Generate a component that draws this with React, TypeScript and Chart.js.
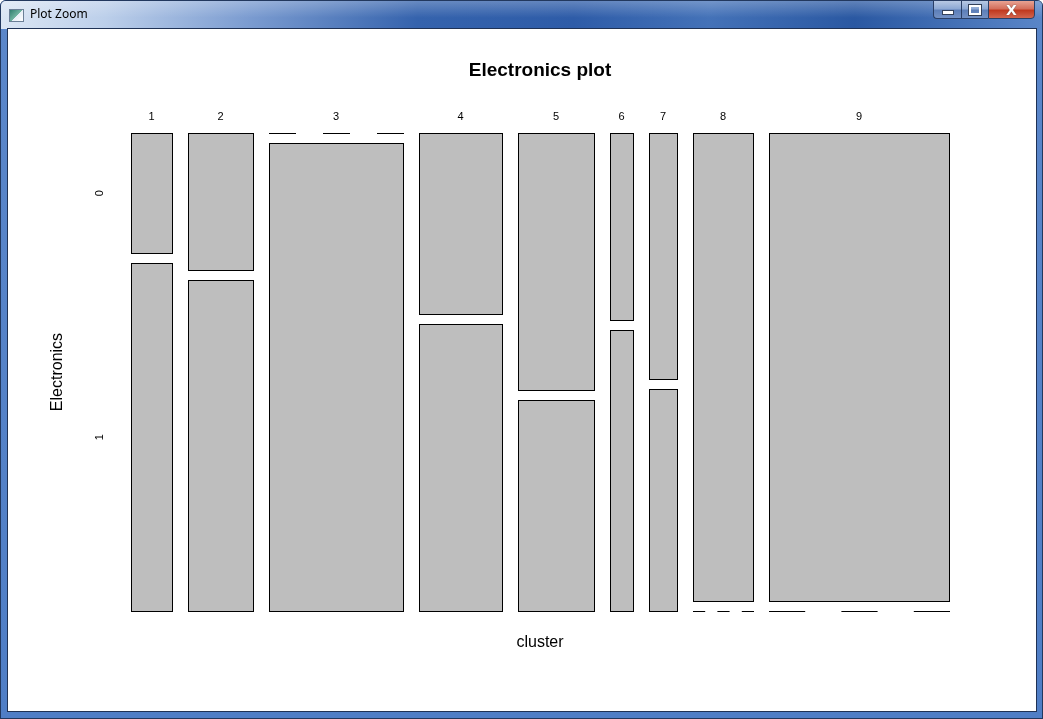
import React, { useEffect, useRef } from 'react';
import { Chart, registerables } from 'chart.js';

Chart.register(...registerables);

// ---- data ----
const clusters = ['1', '2', '3', '4', '5', '6', '7', '8', '9'];
const electronicsLevels = ['0', '1'];
// relative size of each cluster (column widths, sum = 1)
const clusterShare = [0.0594, 0.0942, 0.1942, 0.1203, 0.1101, 0.0333, 0.0406, 0.087, 0.2609];
// share of Electronics = 0 within each cluster
const zeroShare = [0.257, 0.293, 0, 0.387, 0.549, 0.4, 0.526, 1, 1];

const TITLE = 'Electronics plot';
const X_TITLE = 'cluster';
const Y_TITLE = 'Electronics';

// spacing between tiles (in share units)
const X_GAP = 0.0232;
const Y_GAP = 0.0214;

const FONT = 'Liberation Sans, Arial, Helvetica, sans-serif';

const columns = (() => {
  let acc = 0;
  return clusterShare.map((w, i) => {
    const x0 = acc + i * X_GAP;
    acc += w;
    return { x0, x1: x0 + w, zero: zeroShare[i] };
  });
})();
const X_MAX = clusterShare.reduce((a, b) => a + b, 0) + (clusterShare.length - 1) * X_GAP;
const Y_MAX = 1 + Y_GAP;
const colCenters = columns.map((c) => (c.x0 + c.x1) / 2);
const levelCenters = [Y_MAX - zeroShare[0] / 2, (1 - zeroShare[0]) / 2];

const mosaicPlugin = {
  id: 'mosaic',
  beforeDatasetsDraw(chart: any) {
    const { ctx } = chart;
    const xs = chart.scales.x;
    const ys = chart.scales.y;
    ctx.save();
    ctx.lineWidth = 1;
    ctx.strokeStyle = '#000000';
    ctx.fillStyle = '#BEBEBE';
    columns.forEach((col) => {
      const l = Math.round(xs.getPixelForValue(col.x0));
      const r = Math.round(xs.getPixelForValue(col.x1));
      const segs = [
        { top: Y_MAX, bottom: Y_MAX - col.zero },
        { top: 1 - col.zero, bottom: 0 },
      ];
      segs.forEach((s) => {
        const t = Math.round(ys.getPixelForValue(s.top));
        const b = Math.round(ys.getPixelForValue(s.bottom));
        if (s.top - s.bottom <= 1e-9) {
          const w = r - l + 1;
          ctx.save();
          ctx.setLineDash([w / 5, w / 5]);
          ctx.beginPath();
          ctx.moveTo(l, t + 0.5);
          ctx.lineTo(r + 1, t + 0.5);
          ctx.stroke();
          ctx.restore();
        } else {
          ctx.fillRect(l, t, r - l + 1, b - t + 1);
          ctx.strokeRect(l + 0.5, t + 0.5, r - l, b - t);
        }
      });
    });
    ctx.restore();
  },
};

export default function App() {
  const ref = useRef<HTMLCanvasElement>(null);

  useEffect(() => {
    if (!ref.current) return;
    const tickFont = { family: FONT, size: 11 };
    const chart = new Chart(ref.current, {
      type: 'scatter',
      data: { datasets: [{ data: [], xAxisID: 'x', yAxisID: 'y' }] },
      options: {
        animation: false,
        responsive: false,
        events: [],
        layout: { padding: { left: 40, top: 20, right: 87, bottom: 59 } },
        plugins: {
          legend: { display: false },
          tooltip: { enabled: false },
          title: {
            display: true,
            text: TITLE,
            color: '#000',
            fullSize: false,
            font: { family: FONT, size: 19, weight: 'bold', lineHeight: '22px' },
            padding: { top: 11, bottom: 0 },
          },
        },
        scales: {
          x: {
            type: 'linear',
            position: 'top',
            min: 0,
            max: X_MAX,
            afterBuildTicks: (s: any) => {
              s.ticks = colCenters.map((v) => ({ value: v }));
            },
            afterFit: (s: any) => {
              s.height = 51;
            },
            ticks: {
              autoSkip: false,
              maxRotation: 0,
              padding: 9,
              color: '#000',
              font: tickFont,
              callback: (_v: any, i: number) => clusters[i],
            },
            grid: { display: false, drawTicks: false },
            border: { display: false },
          },
          x2: {
            type: 'linear',
            position: 'bottom',
            min: 0,
            max: X_MAX,
            afterFit: (s: any) => {
              s.height = 41;
            },
            ticks: { display: false },
            grid: { display: false, drawTicks: false },
            border: { display: false },
            title: {
              display: true,
              text: X_TITLE,
              color: '#000',
              font: { family: FONT, size: 16 },
              padding: 0,
            },
          },
          y: {
            type: 'linear',
            position: 'left',
            min: 0,
            max: Y_MAX,
            afterBuildTicks: (s: any) => {
              s.ticks = levelCenters.map((v) => ({ value: v }));
            },
            afterFit: (s: any) => {
              s.width = 83;
            },
            ticks: {
              autoSkip: false,
              minRotation: 90,
              maxRotation: 90,
              crossAlign: 'center',
              padding: 28,
              color: '#000',
              font: tickFont,
              callback: (_v: any, i: number) => electronicsLevels[i],
            },
            grid: { display: false, drawTicks: false },
            border: { display: false },
            title: {
              display: true,
              text: Y_TITLE,
              color: '#000',
              font: { family: FONT, size: 16 },
              padding: 0,
            },
          },
        },
      } as any,
      plugins: [mosaicPlugin],
    });
    return () => chart.destroy();
  }, []);

  const btnBase: React.CSSProperties = {
    position: 'absolute',
    top: 0,
    height: 19,
    boxSizing: 'border-box',
    display: 'flex',
    alignItems: 'center',
    justifyContent: 'center',
  };

  return (
    <div
      style={{
        position: 'fixed',
        left: 0,
        top: 0,
        width: 1043,
        height: 719,
        overflow: 'hidden',
        borderRadius: '6px 6px 0 0',
        background: 'linear-gradient(to bottom, #5b87ca 0%, #4f7ec6 100%)',
        boxShadow: 'inset 0 0 0 1px #22385e',
        fontFamily: '"Noto Sans", "DejaVu Sans", sans-serif',
      }}
    >
      {/* title bar */}
      <div
        style={{
          position: 'absolute',
          left: 1,
          top: 1,
          width: 1041,
          height: 28,
          borderRadius: '5px 5px 0 0',
          background:
            'linear-gradient(to right, #dbe6f4 0%, #bccfea 10%, #7a9bd0 24%, #3563ad 40%, #2e5ca8 55%, #4472b8 68%, #2a58a2 82%, #5a86c8 100%)',
        }}
      />
      <div
        style={{
          position: 'absolute',
          left: 1,
          top: 1,
          width: 1041,
          height: 28,
          background: 'linear-gradient(to bottom, rgba(255,255,255,0.25), rgba(255,255,255,0) 60%)',
        }}
      />
      {/* icon */}
      <div
        style={{
          position: 'absolute',
          left: 9,
          top: 9,
          width: 13,
          height: 11,
          border: '1px solid #6b7f96',
          background: 'linear-gradient(135deg, #2f7f6f 0%, #6fb3a0 50%, #e6eef6 51%, #ffffff 100%)',
        }}
      />
      <div
        style={{
          position: 'absolute',
          left: 30,
          top: 6,
          fontSize: 12,
          lineHeight: '16px',
          color: '#000',
        }}
      >
        Plot Zoom
      </div>
      {/* window buttons */}
      <div
        style={{
          ...btnBase,
          left: 933,
          width: 28,
          border: '1px solid #2a3f66',
          borderRight: 'none',
          borderRadius: '0 0 0 4px',
          background: 'linear-gradient(to bottom, #b8c9e4 0%, #8ea9d4 45%, #5d7fb9 55%, #7391c4 100%)',
        }}
      >
        <div style={{ width: 10, height: 3, marginTop: 6, background: '#fff', border: '1px solid #33415a' }} />
      </div>
      <div
        style={{
          ...btnBase,
          left: 961,
          width: 27,
          border: '1px solid #2a3f66',
          borderRight: 'none',
          background: 'linear-gradient(to bottom, #b8c9e4 0%, #8ea9d4 45%, #5d7fb9 55%, #7391c4 100%)',
        }}
      >
        <div style={{ width: 8, height: 6, border: '2px solid #fff', outline: '1px solid #33415a' }} />
      </div>
      <div
        style={{
          ...btnBase,
          left: 988,
          width: 47,
          border: '1px solid #2a3f66',
          borderRadius: '0 0 4px 0',
          background: 'linear-gradient(to bottom, #e8a393 0%, #d46f5c 45%, #c0391f 55%, #d2654f 100%)',
          color: '#fff',
          fontWeight: 'bold',
          fontSize: 14,
          lineHeight: '14px',
          fontFamily: '"DejaVu Sans", sans-serif',
          textShadow: '0 0 1px #333',
        }}
      >
        X
      </div>
      {/* client area */}
      <div
        style={{
          position: 'absolute',
          left: 7,
          top: 28,
          width: 1030,
          height: 684,
          background: '#1f3255',
        }}
      />
      <div
        style={{
          position: 'absolute',
          left: 8,
          top: 29,
          width: 1028,
          height: 682,
          background: '#ffffff',
        }}
      >
        <canvas ref={ref} width={1028} height={682} style={{ display: 'block', width: 1028, height: 682 }} />
      </div>
    </div>
  );
}
